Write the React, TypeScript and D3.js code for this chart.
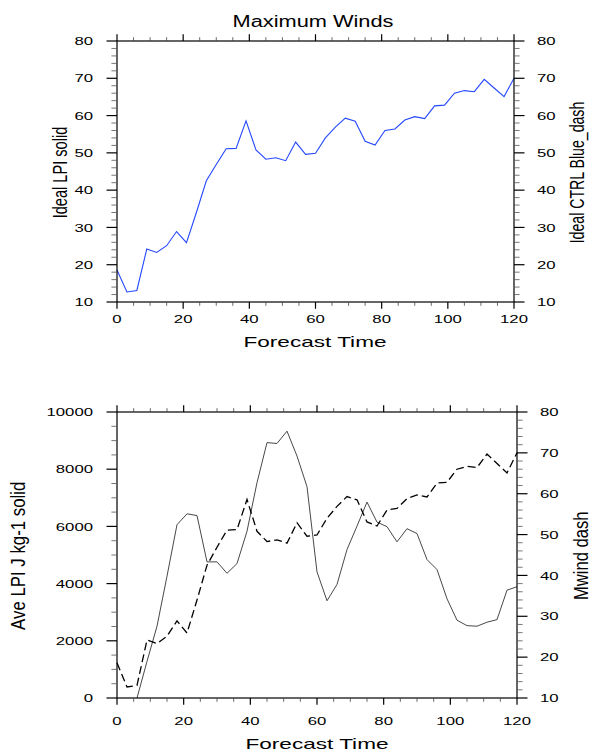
import React from 'react';
import * as d3 from 'd3';

// forecast hours (every 3 h)
const hours = [0, 3, 6, 9, 12, 15, 18, 21, 24, 27, 30, 33, 36, 39, 42, 45, 48, 51, 54, 57, 60,
  63, 66, 69, 72, 75, 78, 81, 84, 87, 90, 93, 96, 99, 102, 105, 108, 111, 114, 117, 120];

// maximum wind (m/s), used in both panels
const mwind = [18.6, 12.7, 13.1, 24.2, 23.3, 25.1, 28.9, 25.9, 34.0, 42.5, 46.9, 51.1, 51.2, 58.6,
  50.8, 48.3, 48.7, 47.9, 52.9, 49.6, 49.9, 54.0, 56.9, 59.3, 58.5, 53.1, 52.1, 56.0, 56.4, 58.8,
  59.7, 59.2, 62.6, 62.8, 66.0, 66.7, 66.4, 69.7, 67.4, 65.1, 70.0];

// averaged LPI (J kg-1), missing in the first hours
const lpi = [null, null, 0, 1280, 2510, 4260, 6060, 6440, 6380, 4760, 4760, 4360, 4700, 5830,
  7530, 8930, 8900, 9330, 8460, 7390, 4410, 3400, 3970, 5190, 6010, 6850, 6150, 5990, 5460, 5920,
  5750, 4840, 4490, 3470, 2720, 2530, 2510, 2650, 2740, 3770, 3890];

const xTicks = [0, 20, 40, 60, 80, 100, 120];
const windTicks = [10, 20, 30, 40, 50, 60, 70, 80];
const lpiTicks = [0, 2000, 4000, 6000, 8000, 10000];

const FONT = '"Liberation Sans", Arial, Helvetica, sans-serif';
const DIGIT_W = 9.3;

type AxisSpec = { scale: d3.ScaleLinear<number, number>; ticks: number[]; minorStep: number };

const hText = (x: number, y: number, s: string, size: number, len: number, anchor: string, key?: string) => (
  <text key={key} x={x} y={y} fontSize={size} textAnchor={anchor} textLength={len}
    lengthAdjust="spacingAndGlyphs" fontFamily={FONT} fill="#000">{s}</text>
);

const vText = (x: number, y: number, s: string, size: number, len: number) => (
  <g transform={`translate(${x},${y}) scale(1.3,1) rotate(-90)`}>
    <text x={0} y={0} fontSize={size} textAnchor="middle" textLength={len}
      lengthAdjust="spacingAndGlyphs" fontFamily={FONT} fill="#000">{s}</text>
  </g>
);

function minorValues(a: AxisSpec) {
  const [lo, hi] = a.scale.domain();
  const out: number[] = [];
  for (let v = lo; v <= hi + 1e-9; v += a.minorStep) {
    if (!a.ticks.some(t => Math.abs(t - v) < 1e-9)) out.push(v);
  }
  return out;
}

const Panel = ({ top, bottom, left, right, yl, yr, xLabelDy, children }: any) => {
  const x = d3.scaleLinear().domain([0, 120]).range([left, right]);
  const xa: AxisSpec = { scale: x, ticks: xTicks, minorStep: 5 };
  const ticks: JSX.Element[] = [];
  const maj = { v: 6.8, h: 10.5 };
  const mnr = { v: 3.8, h: 5.6 };
  // x ticks, bottom and top, outward
  xa.ticks.forEach((t, i) => {
    ticks.push(<line key={`xb${i}`} x1={x(t)} x2={x(t)} y1={bottom} y2={bottom + maj.v} stroke="#000" strokeWidth={1.2} />);
    ticks.push(<line key={`xt${i}`} x1={x(t)} x2={x(t)} y1={top} y2={top - maj.v} stroke="#000" strokeWidth={1.2} />);
  });
  minorValues(xa).forEach((t, i) => {
    ticks.push(<line key={`xbm${i}`} x1={x(t)} x2={x(t)} y1={bottom} y2={bottom + mnr.v} stroke="#444" strokeWidth={0.8} />);
    ticks.push(<line key={`xtm${i}`} x1={x(t)} x2={x(t)} y1={top} y2={top - mnr.v} stroke="#444" strokeWidth={0.8} />);
  });
  [[yl, left, -1], [yr, right, 1]].forEach(([a, xx, dir]: any, k) => {
    a.ticks.forEach((t: number, i: number) => {
      const y = a.scale(t);
      ticks.push(<line key={`y${k}${i}`} x1={xx} x2={xx + dir * maj.h} y1={y} y2={y} stroke="#000" strokeWidth={1.2} />);
      const s = String(t);
      ticks.push(hText(dir < 0 ? xx - 24 : xx + 23, y + 4.2, s, 11.5, s.length * DIGIT_W,
        dir < 0 ? 'end' : 'start', `yl${k}${i}`));
    });
    minorValues(a).forEach((t, i) => {
      const y = a.scale(t);
      ticks.push(<line key={`ym${k}${i}`} x1={xx} x2={xx + dir * mnr.h} y1={y} y2={y} stroke="#555" strokeWidth={0.8} />);
    });
  });
  return (
    <g>
      {children(x)}
      <rect x={left} y={top} width={right - left} height={bottom - top} fill="none" stroke="#000" strokeWidth={1.2} />
      {ticks}
      {xTicks.map((t, i) => hText(x(t), bottom + xLabelDy, String(t), 11.5, String(t).length * DIGIT_W, 'middle', `xl${i}`))}
    </g>
  );
};

export default function App() {
  // top panel
  const t = { top: 41, bottom: 302, left: 117, right: 514 };
  const tyL = d3.scaleLinear().domain([10, 80]).range([t.bottom, t.top]);
  const tyR = d3.scaleLinear().domain([10, 80]).range([t.bottom, t.top]);

  // bottom panel
  const b = { top: 412, bottom: 698, left: 117, right: 517 };
  const byL = d3.scaleLinear().domain([0, 10000]).range([b.bottom, b.top]);
  const byR = d3.scaleLinear().domain([10, 80]).range([b.bottom, b.top]);

  return (
    <svg width={592} height={751} viewBox="0 0 592 751"
      style={{ position: 'absolute', left: 0, top: 0, background: '#fff' }}>
      <rect width={592} height={751} fill="#fff" />
      {hText(313, 26.7, 'Maximum Winds', 16, 161, 'middle')}

      <Panel {...t} xLabelDy={21}
        yl={{ scale: tyL, ticks: windTicks, minorStep: 2 }}
        yr={{ scale: tyR, ticks: windTicks, minorStep: 2 }}>
        {(x: any) => {
          const line = d3.line<number>().x((_, i) => x(hours[i])).y(d => tyL(d));
          return <path d={line(mwind) || ''} fill="none" stroke="#2448ff" strokeWidth={1.1} />;
        }}
      </Panel>
      {hText(315, 347, 'Forecast Time', 14.5, 143, 'middle')}
      {vText(67, 172.5, 'Ideal LPI solid', 15, 91.6)}
      {vText(584, 172.5, 'Ideal CTRL Blue_dash', 15, 141.6)}

      <Panel {...b} xLabelDy={27}
        yl={{ scale: byL, ticks: lpiTicks, minorStep: 500 }}
        yr={{ scale: byR, ticks: windTicks, minorStep: 2 }}>
        {(x: any) => {
          const lpiLine = d3.line<number | null>()
            .defined(d => d != null)
            .x((_, i) => x(hours[i])).y(d => byL(d as number));
          const windLine = d3.line<number>().x((_, i) => x(hours[i])).y(d => byR(d));
          return (
            <g>
              <path d={lpiLine(lpi) || ''} fill="none" stroke="#333" strokeWidth={0.9} />
              <path d={windLine(mwind) || ''} fill="none" stroke="#000" strokeWidth={1.3} strokeDasharray="8,4" />
            </g>
          );
        }}
      </Panel>
      {hText(317, 749, 'Forecast Time', 14.5, 143, 'middle')}
      {vText(25, 555.8, 'Ave LPI J kg-1 solid', 15, 148.3)}
      {vText(588, 555.8, 'Mwind  dash', 15, 88.3)}
    </svg>
  );
}
